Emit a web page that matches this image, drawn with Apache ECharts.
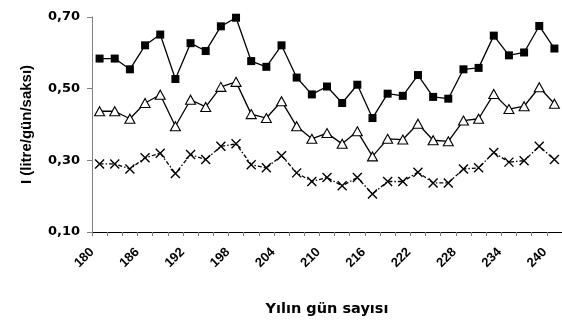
<!DOCTYPE html>
<html>
<head>
<meta charset="utf-8">
<script src="https://cdn.jsdelivr.net/npm/echarts@6/dist/echarts.min.js"></script>
<style>
html,body{margin:0;padding:0;background:#fff;}
#c{width:562px;height:322px;background:#fff;}
</style>
</head>
<body>
<div id="c"></div>
<script>
// Day of year for each point
var days = [181,183,185,187,189,191,193,195,197,199,201,203,205,207,209,211,213,215,217,219,221,223,225,227,229,231,233,235,237,239,241];
// Series values (I, litre/gün/saksı)
var seriesSquare = [0.584,0.584,0.554,0.621,0.651,0.527,0.627,0.605,0.674,0.698,0.577,0.561,0.621,0.531,0.484,0.506,0.460,0.511,0.418,0.486,0.480,0.538,0.477,0.472,0.554,0.558,0.648,0.593,0.601,0.675,0.612];
var seriesTriangle = [0.437,0.437,0.416,0.460,0.483,0.395,0.469,0.449,0.505,0.519,0.429,0.418,0.465,0.395,0.360,0.376,0.346,0.381,0.311,0.360,0.358,0.402,0.356,0.353,0.411,0.416,0.485,0.443,0.451,0.504,0.458];
var seriesCross = [0.290,0.290,0.276,0.307,0.320,0.263,0.316,0.302,0.339,0.346,0.288,0.279,0.313,0.265,0.241,0.252,0.229,0.252,0.206,0.241,0.241,0.267,0.237,0.237,0.276,0.279,0.322,0.295,0.299,0.339,0.302];
// Tick labels
var xTickLabels = [180,186,192,198,204,210,216,222,228,234,240];
var yTickLabels = [0.1,0.3,0.5,0.7];
var xName = 'Yılın gün sayısı';
var yName = 'I (litre/gün/saksı)';

function pairs(vals){ return days.map(function(d,i){ return [d, vals[i]]; }); }

var chart = echarts.init(document.getElementById('c'));
chart.setOption({
  animation:false,
  grid:[
    {left:92, right:0, top:17, bottom:90},
    {left:92, right:0, top:17, bottom:90}
  ],
  xAxis:[{
    gridIndex:0, type:'value', min:180, max:242, interval:2,
    name:xName, nameLocation:'middle', nameGap:70,
    nameTextStyle:{fontFamily:'DejaVu Sans', fontWeight:'bold', fontSize:14.5, color:'#000'},
    axisLine:{show:true, lineStyle:{color:'#000', width:1}},
    axisTick:{show:true, length:4, lineStyle:{color:'#808080', width:1}},
    splitLine:{show:false},
    axisLabel:{show:false}
  },{
    gridIndex:1, type:'value', min:180, max:242, interval:2,
    axisLine:{show:false}, axisTick:{show:false}, splitLine:{show:false},
    axisLabel:{
      rotate:45, margin:18, fontSize:13, fontWeight:'bold', color:'#000',
      formatter:function(v){ return xTickLabels.indexOf(v) >= 0 ? String(v) : ''; }
    }
  }],
  yAxis:[{
    gridIndex:0, type:'value', min:0.1, max:0.7, interval:0.2,
    name:yName, nameLocation:'middle', nameGap:58, nameRotate:90,
    nameTextStyle:{fontFamily:'Liberation Sans', fontWeight:'bold', fontSize:15, color:'#000'},
    axisLine:{show:true, lineStyle:{color:'#808080', width:1}},
    axisTick:{show:true, length:5, lineStyle:{color:'#808080', width:1}},
    splitLine:{show:false},
    axisLabel:{
      margin:12, fontSize:13, fontFamily:'DejaVu Sans', fontWeight:'bold', color:'#000',
      formatter:function(v){
        for (var i=0;i<yTickLabels.length;i++){ if (Math.abs(yTickLabels[i]-v)<1e-9) return v.toFixed(2).replace('.', ','); }
        return '';
      }
    }
  },{
    gridIndex:1, type:'value', min:0, max:1, show:false
  }],
  series:[
    {
      type:'line', xAxisIndex:0, yAxisIndex:0, data:pairs(seriesSquare), symbol:'rect', symbolSize:8,
      itemStyle:{color:'#000'}, lineStyle:{color:'#000', width:1.3}, z:3
    },
    {
      type:'line', xAxisIndex:0, yAxisIndex:0, data:pairs(seriesTriangle), symbol:'triangle', symbolSize:[10,9],
      itemStyle:{color:'#fff', borderColor:'#000', borderWidth:1.1},
      lineStyle:{color:'#000', width:1.3}, z:3
    },
    {
      type:'line', xAxisIndex:0, yAxisIndex:0, data:pairs(seriesCross), symbol:'path://M0,0L10,10M0,10L10,0', symbolSize:9,
      itemStyle:{color:'#000', borderColor:'#000', borderWidth:1.4},
      lineStyle:{color:'#000', width:1.3, type:[4,2,1.5,2]}, z:3
    },
    {
      type:'line', xAxisIndex:1, yAxisIndex:1, data:[], silent:true
    }
  ]
});
</script>
</body>
</html>
